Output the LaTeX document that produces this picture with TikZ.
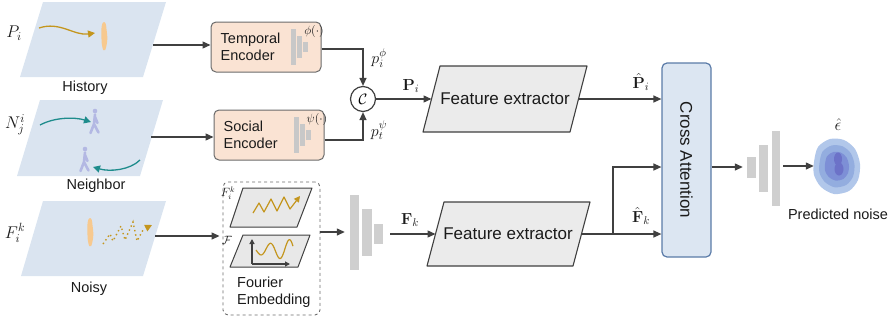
\RequirePackage{fix-cm}
\documentclass[tikz,border=0pt]{standalone}
\usepackage[no-math]{fontspec}
\setmainfont{Liberation Sans}
\usetikzlibrary{arrows.meta,calc}

\definecolor{platec}{HTML}{DAE4F0}
\definecolor{linec}{HTML}{404040}
\definecolor{encfill}{HTML}{FAE3D3}
\definecolor{encdraw}{HTML}{6B6B6B}
\definecolor{fefill}{HTML}{EBEBEB}
\definecolor{cafill}{HTML}{DCE6F2}
\definecolor{cadraw}{HTML}{5A7BA8}
\definecolor{barc}{HTML}{CFCFCF}
\definecolor{minibarc}{HTML}{C8C8C8}
\definecolor{goldc}{HTML}{C4961E}
\definecolor{tealc}{HTML}{1E8C8C}
\definecolor{walkc}{HTML}{B3B8E3}
\definecolor{figc}{HTML}{F7C98F}
\definecolor{fplate}{HTML}{E8E8E8}
\definecolor{txtc}{HTML}{1A1A1A}
\definecolor{blobA}{HTML}{B1C7EA}
\definecolor{blobB}{HTML}{93ADDF}
\definecolor{blobC}{HTML}{7D8FD6}
\definecolor{blobD}{HTML}{6C72C8}

\begin{document}
\begin{tikzpicture}[x=1pt,y=-1pt,
  conn/.style={draw=linec, line width=1.3pt},
  arr/.style={conn, -{Triangle[length=8pt,width=7pt]}},
  lbl/.style={text=txtc, font=\fontsize{14.5}{17}\selectfont, inner sep=0pt},
  big/.style={text=txtc, font=\fontsize{17}{20}\selectfont, inner sep=0pt},
  mathlbl/.style={text=txtc, font=\fontsize{16}{19}\selectfont, inner sep=0pt},
  smallmath/.style={text=txtc, font=\fontsize{12}{14}\selectfont, inner sep=0pt},
  encbox/.style={draw=encdraw, fill=encfill, rounded corners=5pt, line width=1pt,
    minimum width=110pt, minimum height=50pt, inner sep=0pt},
  enctext/.style={lbl, align=left, anchor=west},
  bar/.style={fill=barc, draw=none, inner sep=0pt, minimum width=9pt},
  minibar/.style={fill=minibarc, draw=none},
  plate/.style={fill=platec, draw=none},
  feshape/.style={fill=fefill, draw=linec, line width=1.1pt, line join=round},
  fplateshape/.style={fill=fplate, draw=linec, line width=1pt, line join=round},
  walker/.pic={
    \fill[walkc] (0,-11) circle (2.3);
    \draw[walkc, line width=2.6pt, line cap=round, line join=round]
      (0,-7.5) -- (-1,2) -- (-4.5,11) (-1,2) -- (3.5,10.5) (0,-5) -- (2.5,1);
  },
  standing/.pic={
    \fill[figc] plot[smooth cycle] coordinates
      {(0,-14) (1.8,-12) (2.6,-6) (3.4,2) (2.6,9) (1.2,14) (-0.8,14) (-2.2,8) (-2.6,0) (-2.6,-7) (-1.8,-12)};
  }
]
\useasboundingbox (0,0) rectangle (889,322);

% ---------- input planes ----------
\fill[plate] (43,2) -- (166,2) -- (143,77) -- (20,77) -- cycle;
\fill[plate] (40,100) -- (163,100) -- (140,176) -- (17,176) -- cycle;
\fill[plate] (43,201) -- (166,201) -- (143,276) -- (21,276) -- cycle;

% history plane contents
\draw[goldc, line width=1.3pt, -{Triangle[length=7pt,width=7pt]}]
  (39,28) .. controls (60,21) and (74,36) .. (95,33);
\pic at (104,36) {standing};

% neighbour plane contents
\pic at (95,122) {walker};
\pic at (85,160) {walker};
\draw[tealc, line width=1.3pt, -{Triangle[length=7pt,width=7pt]}]
  (40,125) .. controls (55,117) and (75,117) .. (91,122);
\draw[tealc, line width=1.3pt, -{Triangle[length=7pt,width=7pt]}]
  (140,160) .. controls (130,170) and (110,172) .. (93,167);

% noisy plane contents
\pic at (90,232) {standing};
\draw[goldc, line width=1.4pt, dash pattern=on 1.4pt off 3pt]
  (103,244) -- (110,234) -- (113,241) -- (121,226) -- (125,240) -- (133,222) -- (137,241) -- (143,230);
\draw[goldc, line width=1.2pt, -{Triangle[length=7pt,width=7pt]}] (146,228) -- (152,225);

% plane labels
\node[mathlbl, font=\fontsize{17}{20}\selectfont] (lp) at (14,33) {$P_i$};
\node[mathlbl, font=\fontsize{17}{20}\selectfont] (ln) at (15,125) {$N_j^i$};
\node[mathlbl, font=\fontsize{17}{20}\selectfont] (lf) at (15,233) {$F_i^k$};
\node[lbl] (thist) at (85,88) {History};
\node[lbl] (tneigh) at (96,186) {Neighbor};
\node[lbl] (tnoisy) at (89,289) {Noisy};

\coordinate (hist-out) at (153,45);
\coordinate (neigh-out) at (151,137);
\coordinate (noisy-out) at (155,236);

% ---------- encoders ----------
\node[encbox] (tenc) at (266,47) {};
\node[enctext] (ttext) at ($(tenc.west)+(10,0)$) {Temporal\\Encoder};
\fill[minibar] ($(tenc.center)+(25,-18)$) rectangle ++(5,36);
\fill[minibar] ($(tenc.center)+(31,-11)$) rectangle ++(5,22);
\fill[minibar] ($(tenc.center)+(37,-5)$) rectangle ++(5,10);
\node[smallmath] (tphi) at ($(tenc.center)+(48,-16)$) {$\phi(\cdot)$};

\node[encbox] (senc) at (269,135) {};
\node[enctext] (stext) at ($(senc.west)+(10,0)$) {Social\\Encoder};
\fill[minibar] ($(senc.center)+(25,-18)$) rectangle ++(5,36);
\fill[minibar] ($(senc.center)+(31,-11)$) rectangle ++(5,22);
\fill[minibar] ($(senc.center)+(37,-5)$) rectangle ++(5,10);
\node[smallmath] (spsi) at ($(senc.center)+(48,-16)$) {$\psi(\cdot)$};

\draw[arr] (hist-out) -- (tenc.west |- hist-out);
\draw[arr] (neigh-out) -- (senc.west |- neigh-out);

% ---------- concatenation ----------
\node[circle, draw=linec, line width=1.2pt, fill=white, minimum size=25pt, inner sep=0pt,
      font=\fontsize{15}{18}\selectfont] (cat) at (363,99) {$\mathcal{C}$};
\draw[arr] ($(tenc.east)+(0,2)$) -| (cat.north);
\draw[arr] ($(senc.east)+(0,5)$) -| (cat.south);
\node[mathlbl] (lpphi) at (379,58) {$p_i^{\phi}$};
\node[mathlbl] (lppsi) at (379,130) {$p_t^{\psi}$};

% ---------- feature extractors ----------
\draw[feshape] (440,66) -- (587,66) -- (570,132) -- (423,132) -- cycle;
\node[big] (fe1) at (505,99) {Feature extractor};
\coordinate (fe1-in) at (431.5,99);
\coordinate (fe1-out) at (578.5,99);

\draw[feshape] (444,202) -- (590,202) -- (573,266) -- (427,266) -- cycle;
\node[big] (fe2) at (508,234) {Feature extractor};
\coordinate (fe2-in) at (435.5,234);
\coordinate (fe2-out) at (581.5,234);

\draw[arr] (cat.east) -- (fe1-in);
\node[mathlbl] (lPi) at (411,86) {$\mathbf{P}_i$};

% ---------- Fourier embedding ----------
\node[draw=encdraw, dashed, line width=0.9pt, rounded corners=5pt,
      minimum width=97pt, minimum height=133pt, inner sep=0pt] (fbox) at (271.5,248.5) {};
\draw[fplateshape] (243,188) -- (312,188) -- (297,227) -- (230,227) -- cycle;
\draw[goldc, line width=1.2pt, line join=round, -{Triangle[length=6pt,width=6pt]}]
  (253,213) -- (259,203) -- (264,212) -- (271,199) -- (277,211) -- (284,197) -- (290,209) -- (300,196);
\node[smallmath] (lfk) at (228,193) {$F_i^k$};
\draw[fplateshape] (243,235) -- (310,235) -- (298,267) -- (230,267) -- cycle;
\draw[linec, line width=1.2pt, -{Triangle[length=5pt,width=5pt]}] (252,264) -- (252,239);
\draw[linec, line width=1.2pt, -{Triangle[length=5pt,width=5pt]}] (252,264) -- (290,264);
\draw[goldc, line width=1.2pt, domain=0:1, samples=60, variable=\t, smooth]
  plot ({256+37*\t}, {250+(4+7*\t)*sin(700*\t)});
\node[smallmath] (lcalF) at (227,240) {$\mathcal{F}$};
\node[lbl, align=left, anchor=north west] (ftext) at (237,277) {Fourier\\Embedding};

\draw[arr, shorten >=3pt] (noisy-out) -- (fbox.west |- noisy-out);

% ---------- downsampling bars ----------
\node[bar, minimum height=75pt] (b1) at (354.5,232) {};
\node[bar, minimum height=47pt, minimum width=10pt] (b2) at (367,232) {};
\node[bar, minimum height=20pt] (b3) at (378.5,234) {};
\draw[arr, shorten >=5pt] (fbox.east |- b1) -- (b1.west);
\draw[arr, shorten <=7pt] (b3.east) -- (fe2-in);
\node[mathlbl] (lFk) at (410,220) {$\mathbf{F}_k$};

% ---------- cross attention ----------
\node[draw=cadraw, fill=cafill, rounded corners=5pt, line width=1.2pt,
      minimum width=49pt, minimum height=194pt, inner sep=0pt] (ca) at (686.5,160) {};
\node[big, rotate=-90] (catext) at (ca.center) {Cross Attention};

\draw[arr] (fe1-out) -- (ca.west |- fe1-out);
\node[mathlbl] (lPhat) at (641,82) {$\hat{\mathbf{P}}_i$};
\coordinate (br) at (613,234);
\draw[arr] (fe2-out) -- (ca.west |- fe2-out);
\draw[arr] (br) |- ($(ca.west)+(0,7)$);
\node[mathlbl] (lFhat) at (641,216) {$\hat{\mathbf{F}}_k$};

% ---------- output ----------
\node[bar, minimum height=21pt] (o1) at (751.5,167) {};
\node[bar, minimum height=47pt] (o2) at (763.5,168) {};
\node[bar, minimum height=75pt, minimum width=8pt] (o3) at (776,168.5) {};
\draw[arr, shorten >=4pt] (ca.east |- o1) -- (o1.west);

\node[minimum width=46pt, minimum height=55pt, inner sep=0pt] (noise) at (837,166) {};
\foreach \s/\c in {1/blobA, 0.76/blobB, 0.52/blobC}{
  \begin{scope}[shift={(noise.center)}, scale=\s]
    \fill[\c] plot[smooth cycle] coordinates
      {(-23,-4) (-19,-19) (-7,-27) (7,-26) (18,-17) (23,-2) (21,14) (12,25) (-3,28) (-16,21) (-23,9)};
  \end{scope}
}
\fill[blobD] (838,159) ellipse (4 and 6.5);
\fill[blobD] (839,169) ellipse (4.5 and 6.5);
\draw[arr, shorten <=3pt] (o3.east |- noise.west) -- (noise.west);
\node[mathlbl, font=\fontsize{17}{20}\selectfont] (leps) at (838,125) {$\hat{\epsilon}$};
\node[lbl] (tpred) at (838,214) {Predicted noise};

\end{tikzpicture}
\end{document}
